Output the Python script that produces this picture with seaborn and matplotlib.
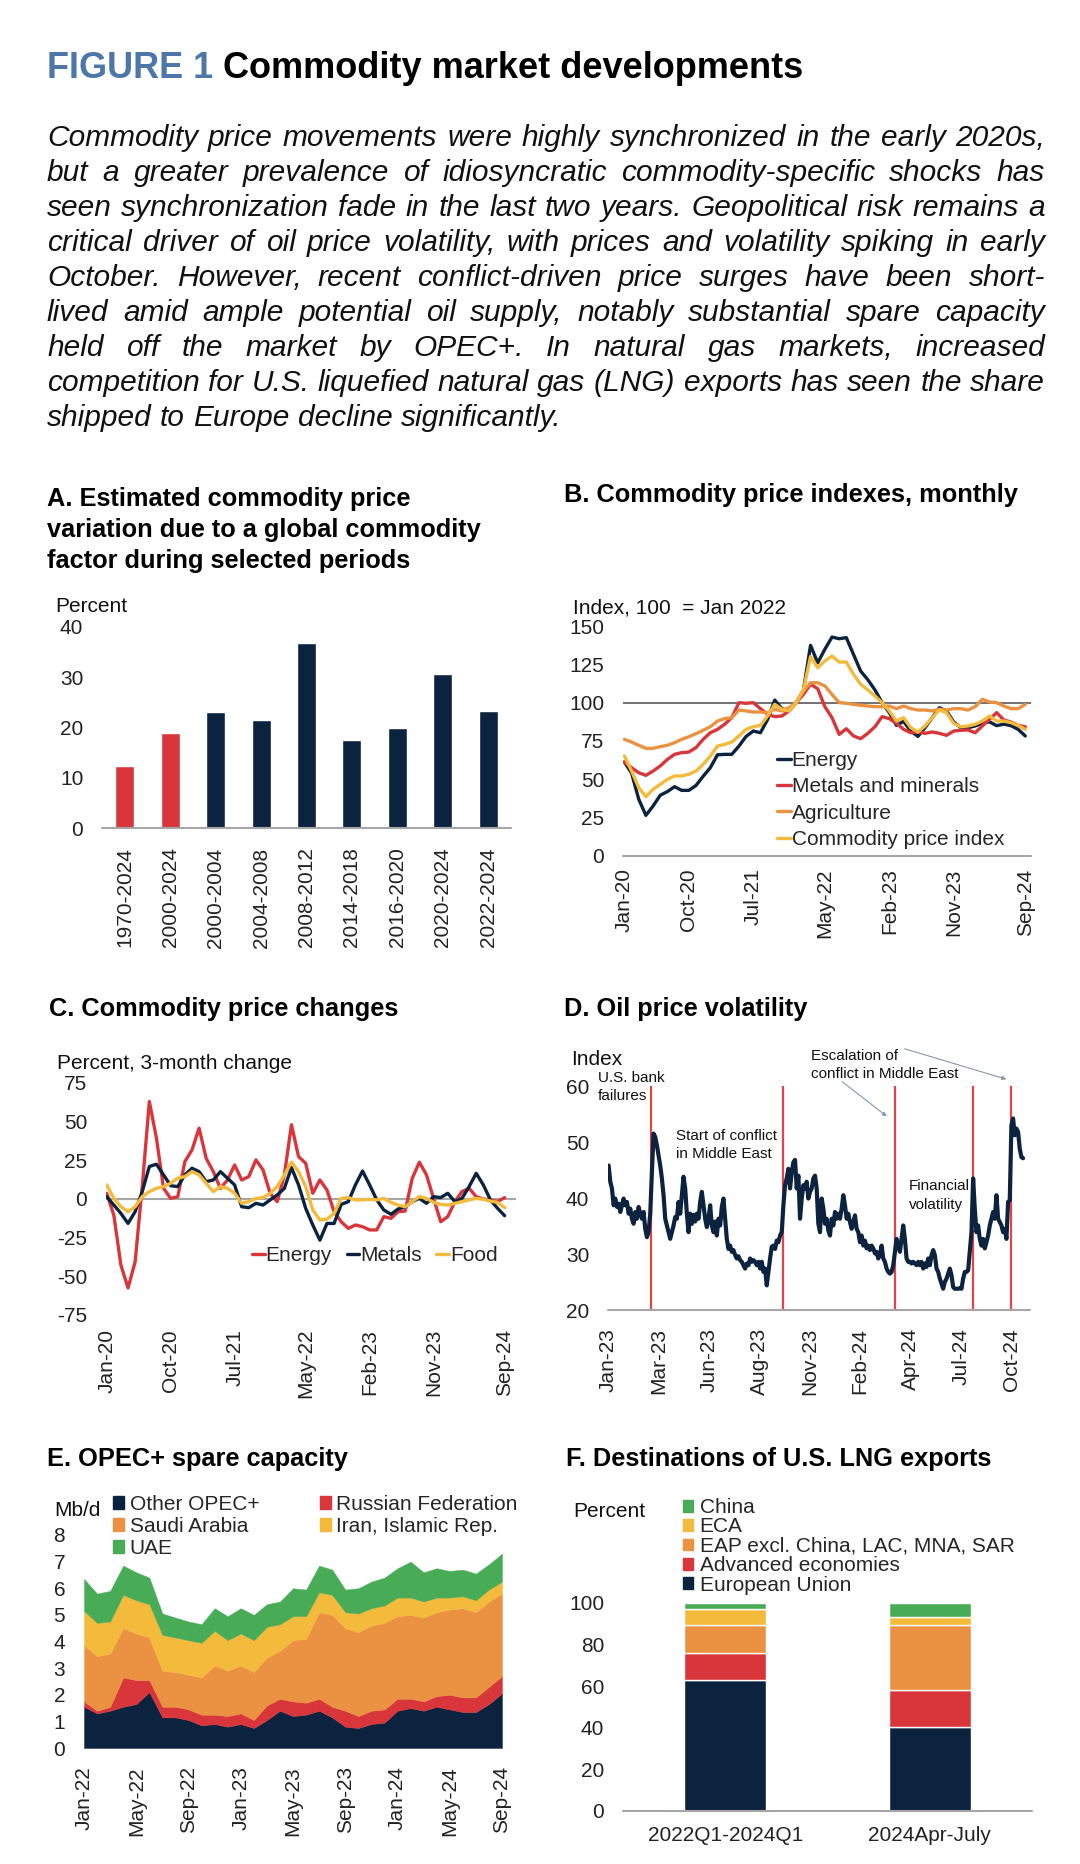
import matplotlib
matplotlib.use('Agg')
import matplotlib.pyplot as plt
from matplotlib.patches import Patch
import numpy as np
import pandas as pd
import seaborn as sns

# ---------------- data ----------------
periods_a = ['1970-2024', '2000-2024', '2000-2004', '2004-2008', '2008-2012',
             '2014-2018', '2016-2020', '2020-2024', '2022-2024']
share_a = [12.3, 19.0, 23.0, 21.5, 36.8, 17.5, 19.9, 30.6, 23.3]

month_ticks = [0, 9, 18, 28, 37, 46, 56]
month_labels = ['Jan-20', 'Oct-20', 'Jul-21', 'May-22', 'Feb-23', 'Nov-23', 'Sep-24']

energy_b = [61.3, 54, 37, 26.5, 32.6, 39.6, 42, 45.2, 42.8, 42.8, 46, 52, 57.6, 66, 66.3,
            66.3, 71.7, 78, 81.5, 80.4, 89, 101.7, 96, 95, 100, 108, 137.4, 126, 134.8,
            142.8, 141.7, 142.4, 131.5, 120.6, 115, 108.3, 100, 93.5, 85.2, 87.8, 81.5,
            78, 83.7, 90.2, 96.7, 94.6, 87.4, 83.7, 83.7, 84.8, 86.5, 87.5, 85, 86, 85,
            82.6, 78.3]
metals_b = [61.3, 57.6, 54.3, 52.6, 55.4, 58.7, 63.0, 66.3, 67.4, 67.8, 70.7, 76.1, 80.4,
            82.6, 85.9, 90.2, 100, 99.6, 100, 96.1, 92.4, 90.9, 91.3, 94.6, 100, 105.4,
            112, 109.1, 97.4, 90.2, 79.3, 83, 78.3, 76.5, 80, 84.3, 90.9, 89.6, 86.5, 82.6,
            80.4, 80.9, 80, 80.9, 80, 78.7, 81.5, 82, 82.2, 80.4, 84.8, 89.1, 93.5, 88.7,
            87.4, 85.2, 84.3]
agri_b = [76.1, 74.3, 72.2, 70.2, 70.2, 71.3, 72.2, 73.9, 76.1, 77.8, 79.8, 82.0, 84.3,
          88.0, 89.6, 90.2, 95.2, 94.6, 93.9, 93.9, 93.5, 95.7, 94.6, 96.7, 100, 107.6,
          113, 113, 110.9, 105.4, 100, 99.6, 98.9, 98.3, 97.8, 97.4, 97.4, 97.8, 96.1,
          97.8, 96.1, 95.2, 95.2, 94.6, 95.7, 95.2, 96.1, 96.1, 95.2, 97.4, 102.2, 100.4,
          100, 97.8, 96.1, 96.1, 98.9]
cpi_b = [65.2, 55.4, 44.6, 38.7, 43.5, 46.7, 50, 52.2, 52.2, 53.3, 55.4, 59.8, 65.2, 71.7,
         72.8, 74.3, 78.3, 82.6, 84.3, 85.2, 91.3, 98.9, 95.7, 94.6, 100, 108.3, 130,
         122.8, 127.2, 130.4, 126.5, 126.5, 118.5, 112, 108.3, 104.3, 100, 94.6, 88, 90.2,
         83.7, 80.9, 84.8, 90.2, 95.2, 93.5, 86.5, 84.3, 84.8, 85.9, 88, 91.3, 88, 88, 87,
         85.2, 82.6]

energy_c = [3.7, -10.4, -42.8, -57.5, -40.6, 8, 63, 39.3, 6.9, 0.4, 1.5, 24.2, 31.7, 45.8,
            26.3, 17.7, 6.9, 12.3, 22, 12.3, 14.5, 25.3, 18.8, 3.7, -1.7, 15.6, 48, 27.4,
            23.1, 3.7, 12.3, 5.8, -8.2, -14.7, -19, -16.8, -17.9, -20, -20, -11.4, -12.5,
            -8.2, -7.8, 13.4, 23.8, 15.6, 0.4, -14.7, -11.4, -1.7, 4.8, 6.9, 1.5, 0, -0.6,
            -1.7, 0.9]
metals_c = [1.5, -3.9, -9.3, -15.8, -8.2, 4.8, 21, 22.5, 15.6, 8.6, 8, 15.6, 19.9, 17.7,
            11.2, 12.3, 17.7, 13.4, 9.1, -5, -5.6, -2.8, -3.9, -0.6, 2.6, 6.9, 20.3, 9.1,
            -6, -16.8, -26.6, -15.8, -15.8, -3.5, -1.7, 9.1, 18.1, 9.1, -0.6, -7.1, -9.9,
            -6.5, -5, -1.7, 0.4, -2.8, 1.5, 0.9, 3.7, -1.7, 0.4, 8, 16.6, 9.1, -0.6, -6,
            -10.8]
food_c = [9.1, 0.4, -5, -8.2, -5, 1.5, 4.8, 6.9, 8, 10.2, 13.4, 14.5, 17.7, 15.6, 10.2,
          4.8, 8, 6.9, 3.7, -2.8, -1.7, 0.4, 0.9, 3.7, 8, 15.6, 23.8, 17.7, 8, -7.1, -13.6,
          -13, -9.3, 0.4, 0.9, -0.6, -0.6, -0.2, -0.6, 0.4, -2.2, -3.9, -5, -1.7, 1.5, 0.4,
          -2.2, -3.5, -3.9, -2.8, -1.7, -0.6, 0.4, -0.2, -1.3, -2.2, -5.6]

# oil price volatility index, sampled every ~2.6 days from 2 Jan 2023 to 21 Oct 2024
vol_index = [
    45.8, 42.9, 41.7, 38.7, 39.9, 38.4, 39.0, 37.5, 38.7, 39.9,
    38.7, 39.3, 37.2, 38.1, 36.3, 35.4, 37.5, 36.3, 38.4, 37.2,
    36.3, 37.5, 34.5, 33.0, 33.9, 37.2, 44.6, 51.5, 50.9, 49.4,
    47.6, 45.8, 43.5, 40.5, 36.3, 35.1, 33.9, 32.7, 33.9, 35.1,
    36.6, 36.3, 39.3, 37.2, 40.5, 43.8, 41.7, 37.2, 33.9, 37.2,
    35.4, 37.0, 35.8, 37.2, 36.3, 39.3, 41.1, 38.7, 36.3, 34.8,
    36.3, 38.7, 35.1, 33.9, 35.8, 33.3, 36.3, 35.1, 38.4, 39.9,
    36.3, 32.7, 30.9, 31.5, 30.4, 30.7, 29.8, 29.2, 29.6, 28.9,
    28.6, 28.0, 27.4, 28.3, 28.0, 29.2, 28.6, 28.9, 28.6, 28.0,
    28.6, 27.4, 28.6, 26.8, 27.4, 24.4, 26.8, 29.2, 31.3, 31.5,
    30.9, 32.4, 32.1, 33.3, 33.9, 38.7, 42.3, 43.5, 45.2, 41.7,
    44.6, 46.4, 46.8, 41.7, 44.0, 36.3, 39.9, 42.3, 41.7, 42.9,
    39.9, 41.1, 41.7, 43.5, 44.0, 41.7, 35.4,
    33.9, 39.9, 38.1, 35.4, 36.3, 34.2, 33.3, 36.3, 35.1, 37.5,
    36.3, 37.2, 36.3, 38.1, 40.5, 38.7, 36.3, 37.2, 35.7, 34.5,
    35.7, 36.9, 34.5, 33.9, 32.1, 33.3, 31.5, 32.4, 31.0, 31.5,
    30.7, 31.5, 31.0, 30.1, 30.4, 29.2, 29.8, 31.5, 29.2, 28.6,
    27.4, 26.8, 26.5, 26.8, 28.0, 30.4, 32.7, 31.5, 30.4, 32.7,
    35.1, 32.7, 29.2, 28.6, 28.6, 28.3, 28.6, 28.3, 28.0, 28.6,
    28.0, 28.6, 27.4, 28.3, 27.7, 29.2, 28.0, 29.8, 30.7, 29.8,
    27.4, 26.8, 25.6, 24.7, 23.8, 25.0, 25.6, 26.5, 27.4, 26.2,
    24.1, 23.8, 23.8, 23.8, 23.9, 23.8, 25.6, 26.8, 26.8, 27.1,
    30.4, 33.9, 43.5, 38.0, 33.9, 35.1, 32.7, 31.5, 32.7, 31.0,
    32.1, 33.3, 35.1, 36.3, 37.5, 36.3, 40.5, 36.3, 35.7, 35.1,
    33.9, 34.5, 32.7, 39.3, 39.6, 53.0, 54.2, 51.2, 52.4, 51.8,
    48.8, 47.3, 47.1]
vol_start, vol_end = '2023-01-02', '2024-10-21'
event_dates = ['2023-03-10', '2023-10-06', '2024-04-01', '2024-08-02', '2024-10-02']

opec_labels = ['Jan-22', 'May-22', 'Sep-22', 'Jan-23', 'May-23', 'Sep-23', 'Jan-24', 'May-24', 'Sep-24']
other_opec = [1.55, 1.3, 1.4, 1.55, 1.65, 2.1, 1.15, 1.15, 1.05, 0.85, 0.9, 0.8, 0.9, 0.75,
              1.05, 1.4, 1.2, 1.25, 1.4, 1.15, 0.8, 0.75, 0.9, 0.95, 1.4, 1.5, 1.4, 1.55,
              1.45, 1.35, 1.35, 1.65, 2.05]
russia = [0.2, 0.1, 0.15, 1.1, 0.9, 0.45, 0.4, 0.4, 0.4, 0.4, 0.35, 0.4, 0.4, 0.3, 0.55,
          0.45, 0.55, 0.45, 0.45, 0.4, 0.6, 0.45, 0.5, 0.5, 0.45, 0.35, 0.35, 0.4, 0.55,
          0.55, 0.55, 0.65, 0.65]
saudi = [2.1, 2.05, 2.0, 1.85, 1.75, 1.6, 1.35, 1.3, 1.3, 1.4, 1.85, 1.7, 1.8, 1.8, 1.8,
         1.8, 2.3, 2.4, 3.25, 3.45, 3.1, 3.15, 3.2, 3.25, 3.1, 3.15, 3.15, 3.15, 3.2, 3.35,
         3.2, 3.2, 3.1]
iran = [1.3, 1.25, 1.2, 1.25, 1.25, 1.25, 1.35, 1.3, 1.3, 1.3, 1.3, 1.15, 1.2, 1.2, 1.15,
        1.0, 0.9, 0.85, 0.75, 0.75, 0.6, 0.7, 0.65, 0.65, 0.7, 0.65, 0.6, 0.55, 0.45, 0.45,
        0.45, 0.45, 0.45]
uae = [1.2, 1.1, 1.15, 1.1, 1.05, 1.0, 0.8, 0.75, 0.7, 0.7, 0.85, 0.9, 0.95, 0.95, 0.85,
       0.85, 1.05, 1.0, 1.0, 0.95, 0.85, 0.95, 1.0, 1.05, 1.1, 1.35, 1.1, 1.1, 1.0, 1.0,
       1.0, 0.95, 1.05]

lng_periods = ['2022Q1-2024Q1', '2024Apr-July']
lng_dest = ['European Union', 'Advanced economies', 'EAP excl. China, LAC, MNA, SAR', 'ECA', 'China']
lng_early = [63, 13, 13.5, 7.5, 3]
lng_late = [40.5, 17.5, 31.5, 4, 6.5]

paragraph = [
    "Commodity price movements were highly synchronized in the early 2020s,",
    "but a greater prevalence of idiosyncratic commodity-specific shocks has",
    "seen synchronization fade in the last two years. Geopolitical risk remains a",
    "critical driver of oil price volatility, with prices and volatility spiking in early",
    "October. However, recent conflict-driven price surges have been short-",
    "lived amid ample potential oil supply, notably substantial spare capacity",
    "held off the market by OPEC+. In natural gas markets, increased",
    "competition for U.S. liquefied natural gas (LNG) exports has seen the share",
    "shipped to Europe decline significantly.",
]

# ---------------- style ----------------
NAVY = '#0C2340'
RED = '#D9363B'
ORANGE = '#EA9242'
YELLOW = '#F3BA3C'
GREEN = '#48AC57'
TITLE_BLUE = '#4D77A8'
GREY = '#A6A6A6'
TXT = '#111111'

sns.set_theme(style='white')
plt.rcParams['font.family'] = ['Liberation Sans', 'DejaVu Sans']
plt.rcParams['axes.unicode_minus'] = False

W, H = 1080, 1864
fig = plt.figure(figsize=(W / 100, H / 100), dpi=100)
fig.patch.set_facecolor('white')
rend = fig.canvas.get_renderer()


def fx(px):
    return px / W


def fy(py):
    return 1 - py / H


def ftext(x, y, s, size=15, **kw):
    kw.setdefault('va', 'baseline')
    kw.setdefault('color', TXT)
    return fig.text(fx(x), fy(y), s, fontsize=size, **kw)


def make_ax(x0, y0, x1, y1, xpad=10, ypad=13.5):
    ax = fig.add_axes([fx(x0), fy(y1), (x1 - x0) / W, (y1 - y0) / H])
    ax.patch.set_visible(False)
    sns.despine(ax=ax, left=True, bottom=True)
    ax.tick_params(axis='both', length=0, labelsize=15, labelcolor='#222222')
    ax.tick_params(axis='x', pad=xpad)
    ax.tick_params(axis='y', pad=ypad)
    return ax


def justified(line, y, x0, x1, size, justify=True):
    words = line.split(' ')
    arts = [fig.text(0, fy(y), w, fontsize=size, style='italic', va='baseline', color=TXT)
            for w in words]
    widths = [a.get_window_extent(rend).width for a in arts]
    if justify and len(words) > 1:
        gap = (x1 - x0 - sum(widths)) / (len(words) - 1)
    else:
        gap = 0.278 * size * 100 / 72
    x = x0
    for a, w in zip(arts, widths):
        a.set_x(fx(x))
        x += w + gap


# ---------------- header ----------------
t1 = ftext(47, 78, 'FIGURE 1', size=26, fontweight='bold', color=TITLE_BLUE)
w1 = t1.get_window_extent(rend).width
ftext(47 + w1 + 10, 78, 'Commodity market developments', size=26, fontweight='bold', color='black')

for i, line in enumerate(paragraph):
    justified(line, 146 + 35 * i, 47, 1045, 21.5, justify=(i < len(paragraph) - 1))

# ---------------- panel A ----------------
for i, s in enumerate(['A. Estimated commodity price', 'variation due to a global commodity',
                       'factor during selected periods']):
    ftext(47, 506 + 31 * i, s, size=18.3, fontweight='bold', color='black')
ftext(55, 612, 'Percent')

axA = make_ax(102, 627, 511, 828, xpad=14)
bar_colors = [RED] * 2 + [NAVY] * (len(periods_a) - 2)
sns.barplot(x=periods_a, y=share_a, hue=periods_a, palette=bar_colors, legend=False,
            width=0.42, saturation=1, ax=axA)
axA.set_xlim(-0.5, len(periods_a) - 0.5)
axA.set_ylim(0, 40)
axA.set_yticks([0, 10, 20, 30, 40])
axA.tick_params(axis='x', labelrotation=90)
axA.axhline(0, color=GREY, lw=1.5, clip_on=False)
axA.set_xlabel('')
axA.set_ylabel('')

# ---------------- panel B ----------------
ftext(564, 502, 'B. Commodity price indexes, monthly', size=18.3, fontweight='bold', color='black')
ftext(573, 613, 'Index, 100  = Jan 2022')

axB = make_ax(623, 626, 1031, 856, xpad=9)
names_b = ['Energy', 'Metals and minerals', 'Agriculture', 'Commodity price index']
dfb = pd.concat([pd.DataFrame({'month': range(len(v)), 'value': v, 'series': n})
                 for n, v in zip(names_b, [energy_b, metals_b, agri_b, cpi_b])])
axB.axhline(100, color='#4a4a4a', lw=1.1, zorder=0)
axB.axhline(0, color=GREY, lw=1.5, clip_on=False)
sns.lineplot(data=dfb, x='month', y='value', hue='series', hue_order=names_b,
             palette=[NAVY, RED, ORANGE, YELLOW], linewidth=2.4, errorbar=None, ax=axB)
axB.set_xlim(-0.2, 56.8)
axB.set_ylim(0, 150)
axB.set_yticks(range(0, 151, 25))
axB.set_xticks(month_ticks, month_labels)
axB.tick_params(axis='x', labelrotation=90)
axB.set_xlabel('')
axB.set_ylabel('')
h, l = axB.get_legend_handles_labels()
axB.legend(h, l, loc='upper left', bbox_to_anchor=(fx(777), fy(751)), bbox_transform=fig.transFigure,
           frameon=False, fontsize=15, handlelength=0.65, handletextpad=0.05, labelspacing=0.35,
           borderpad=0, borderaxespad=0)

# ---------------- panel C ----------------
ftext(49, 1016, 'C. Commodity price changes', size=18.3, fontweight='bold', color='black')
ftext(57, 1069, 'Percent, 3-month change')

axC = make_ax(106, 1083, 516, 1315, xpad=10)
names_c = ['Energy', 'Metals', 'Food']
dfc = pd.concat([pd.DataFrame({'month': range(len(v)), 'value': v, 'series': n})
                 for n, v in zip(names_c, [energy_c, metals_c, food_c])])
axC.axhline(0, color=GREY, lw=1.5, zorder=0)
sns.lineplot(data=dfc, x='month', y='value', hue='series', hue_order=names_c,
             palette=[RED, NAVY, YELLOW], linewidth=2.4, errorbar=None, ax=axC)
axC.set_xlim(-0.1, 57.6)
axC.set_ylim(-75, 75)
axC.set_yticks(range(-75, 76, 25))
axC.set_xticks(month_ticks, month_labels)
axC.tick_params(axis='x', labelrotation=90)
axC.set_xlabel('')
axC.set_ylabel('')
h, l = axC.get_legend_handles_labels()
axC.legend(h, l, loc='upper left', bbox_to_anchor=(fx(252), fy(1246)), bbox_transform=fig.transFigure,
           ncol=3, frameon=False, fontsize=15, handlelength=0.6, handletextpad=0.05,
           columnspacing=0.7, borderpad=0, borderaxespad=0)

# ---------------- panel D ----------------
ftext(564, 1016, 'D. Oil price volatility', size=18.3, fontweight='bold', color='black')
ftext(571, 1065, 'Index')

axD = make_ax(608, 1086, 1030, 1310, xpad=13)
vol_dates = pd.date_range(vol_start, vol_end, periods=len(vol_index))
axD.axhline(20, color=GREY, lw=1.5, clip_on=False)
axD.vlines(pd.to_datetime(event_dates), 20, 60, color='#E0454A', lw=1.6, zorder=1)
sns.lineplot(x=vol_dates, y=vol_index, color=NAVY, linewidth=3.0, ax=axD, zorder=2)
axD.set_xlim(pd.Timestamp('2023-01-01'), pd.Timestamp('2024-11-01'))
axD.set_ylim(20, 60)
axD.set_yticks([20, 30, 40, 50, 60])
d_ticks = pd.date_range('2023-01-01', periods=9, freq='80D')
axD.set_xticks(d_ticks, [d.strftime('%b-%y') for d in d_ticks])
axD.tick_params(axis='x', labelrotation=90)
axD.set_xlabel('')
axD.set_ylabel('')

ann = 11
ftext(598, 1082.5, 'U.S. bank', size=ann)
ftext(598, 1100.5, 'failures', size=ann)
ftext(676, 1140.5, 'Start of conflict', size=ann)
ftext(676, 1158, 'in Middle East', size=ann)
ftext(811, 1059.5, 'Escalation of', size=ann)
ftext(811, 1078, 'conflict in Middle East', size=ann)
ftext(909, 1190.5, 'Financial', size=ann)
ftext(909, 1209, 'volatility', size=ann)
for (sx, sy), (tx, ty) in [((840, 1080), (889, 1118)), ((902, 1048), (1009, 1080))]:
    fig.add_artist(matplotlib.patches.FancyArrowPatch(
        (fx(sx), fy(sy)), (fx(tx), fy(ty)), transform=fig.transFigure,
        arrowstyle='-|>', mutation_scale=6, color='#8A97AA', lw=0.8))

# ---------------- panel E ----------------
ftext(47, 1466, 'E. OPEC+ spare capacity', size=18.3, fontweight='bold', color='black')
ftext(54, 1516, 'Mb/d')

axE = make_ax(84, 1535, 502, 1748, xpad=13)
opec_x = np.arange(len(other_opec))
e_colors = [NAVY, RED, ORANGE, YELLOW, GREEN]
axE.stackplot(opec_x, other_opec, russia, saudi, iran, uae, colors=e_colors,
              edgecolor='face', linewidth=0.3)
axE.set_xlim(0, len(other_opec) - 1)
axE.set_ylim(0, 8)
axE.set_yticks(range(0, 9))
axE.set_xticks(opec_x[::4], opec_labels)
axE.tick_params(axis='x', labelrotation=90)
e_names = ['Other OPEC+', 'Russian Federation', 'Saudi Arabia', 'Iran, Islamic Rep.', 'UAE']
order = [0, 2, 4, 1, 3]
axE.legend([Patch(color=e_colors[i]) for i in order], [e_names[i] for i in order],
           loc='upper left', bbox_to_anchor=(fx(113), fy(1495)), bbox_transform=fig.transFigure,
           ncol=2, frameon=False, fontsize=15, handlelength=0.55, handleheight=0.55,
           handletextpad=0.25, labelspacing=0.14, columnspacing=2.9, borderpad=0, borderaxespad=0)

# ---------------- panel F ----------------
ftext(566, 1466, 'F. Destinations of U.S. LNG exports', size=18.3, fontweight='bold', color='black')
ftext(573, 1517, 'Percent')

axF = make_ax(623, 1603, 1032, 1811, xpad=11)
f_colors = [NAVY, RED, ORANGE, YELLOW, GREEN]
shares = np.array([lng_early, lng_late])
bottoms = np.zeros(len(lng_periods))
for j, dest in enumerate(lng_dest):
    axF.bar(range(len(lng_periods)), shares[:, j], bottom=bottoms, width=0.4,
            color=f_colors[j], label=dest)
    bottoms += shares[:, j]
axF.axhline(0, color=GREY, lw=1.5, clip_on=False)
axF.set_xlim(-0.5, 1.5)
axF.set_ylim(0, 100)
axF.set_yticks(range(0, 101, 20))
axF.set_xticks(range(len(lng_periods)), lng_periods)
h, l = axF.get_legend_handles_labels()
axF.legend([Patch(color=f_colors[j]) for j in range(4, -1, -1)], l[::-1],
           loc='upper left', bbox_to_anchor=(fx(683), fy(1498)), bbox_transform=fig.transFigure,
           frameon=False, fontsize=15, handlelength=0.5, handleheight=0.5,
           handletextpad=0.3, labelspacing=0.02, borderpad=0, borderaxespad=0)

fig.savefig('out.png', dpi=100, facecolor='white')
